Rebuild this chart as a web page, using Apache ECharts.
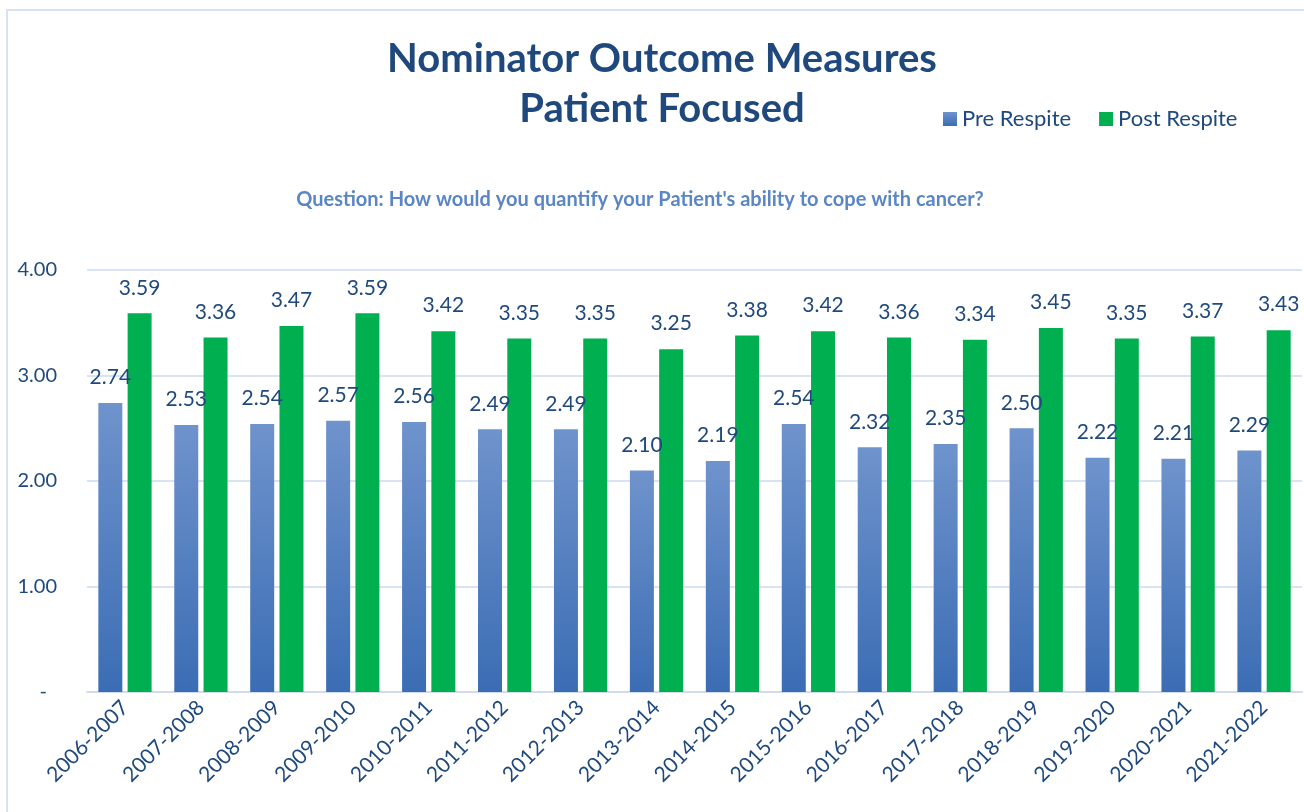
<!DOCTYPE html>
<html>
<head>
    <meta charset="UTF-8">
    <title>Nominator Outcome Measures</title>
    <script src="https://cdn.jsdelivr.net/npm/echarts@6/dist/echarts.min.js"></script>
    <style>
        html, body { margin: 0; padding: 0; background: #fff; }
        #main { width: 1304px; height: 812px; }
    </style>
</head>
<body>
    <div id="main"></div>
    <script type="text/javascript">
        // 数据
        var years = ['2006-2007', '2007-2008', '2008-2009', '2009-2010', '2010-2011', '2011-2012',
            '2012-2013', '2013-2014', '2014-2015', '2015-2016', '2016-2017', '2017-2018',
            '2018-2019', '2019-2020', '2020-2021', '2021-2022'];
        var preRespite = [2.74, 2.53, 2.54, 2.57, 2.56, 2.49, 2.49, 2.10, 2.19, 2.54, 2.32, 2.35, 2.50, 2.22, 2.21, 2.29];
        var postRespite = [3.59, 3.36, 3.47, 3.59, 3.42, 3.35, 3.35, 3.25, 3.38, 3.42, 3.36, 3.34, 3.45, 3.35, 3.37, 3.43];

        var font = 'Lato, "Open Sans", sans-serif';
        var dark = '#1f497d';

        var myChart = echarts.init(document.getElementById('main'));

        var preColor = new echarts.graphic.LinearGradient(0, 0, 0, 1, [
            { offset: 0, color: '#6f93cc' },
            { offset: 1, color: '#3b6db4' }
        ]);

        var option = {
            backgroundColor: '#fff',
            animation: false,
            textStyle: { fontFamily: font },
            title: [{
                text: 'Nominator Outcome Measures',
                left: 657, top: 34, textAlign: 'center',
                textStyle: { fontSize: 40, fontWeight: 'bold', color: dark, fontFamily: font }
            }, {
                text: 'Patient Focused',
                left: 657, top: 84, textAlign: 'center',
                textStyle: { fontSize: 40, fontWeight: 'bold', color: dark, fontFamily: font }
            }, {
                text: "Question: How would you quantify your Patient's ability to cope with cancer?",
                left: 635, top: 185, textAlign: 'center',
                textStyle: { fontSize: 20, fontWeight: 'bold', color: '#5a86c4', fontFamily: font }
            }],
            legend: {
                left: 938, top: 103,
                itemWidth: 14, itemHeight: 14, itemGap: 28,
                icon: 'rect',
                textStyle: { fontSize: 22, color: dark, fontFamily: font },
                data: ['Pre Respite', 'Post Respite']
            },
            graphic: [{
                type: 'rect',
                shape: { x: 7, y: 10, width: 1320, height: 830 },
                style: { fill: 'none', stroke: '#d6e3f3', lineWidth: 2 },
                silent: true
            }],
            grid: { left: 87, right: 2, top: 270, bottom: 120 },
            xAxis: {
                type: 'category',
                data: years,
                axisLine: { lineStyle: { color: '#d0dcee', width: 2 } },
                axisTick: { show: false },
                axisLabel: {
                    rotate: 45, interval: 0, margin: 12,
                    fontSize: 21, color: dark, fontFamily: font
                }
            },
            yAxis: {
                type: 'value',
                min: 0, max: 4, interval: 1,
                axisLine: { show: false },
                axisTick: { show: false },
                splitLine: { lineStyle: { color: '#d9e4f3', width: 2 } },
                axisLabel: {
                    margin: 30, fontSize: 20, color: dark, fontFamily: font,
                    formatter: function (v) {
                        return v === 0 ? '{d|-}' : v.toFixed(2);
                    },
                    rich: { d: { fontSize: 20, color: dark, padding: [0, 10, 0, 0] } }
                }
            },
            series: [{
                name: 'Pre Respite',
                type: 'bar',
                data: preRespite,
                barWidth: 24,
                barGap: '22%',
                itemStyle: { color: preColor },
                label: {
                    show: true, position: 'top', distance: 15,
                    fontSize: 21, color: dark, fontFamily: font,
                    formatter: function (p) { return p.value.toFixed(2); }
                }
            }, {
                name: 'Post Respite',
                type: 'bar',
                data: postRespite,
                barWidth: 24,
                itemStyle: { color: '#00b050' },
                label: {
                    show: true, position: 'top', distance: 15,
                    fontSize: 21, color: dark, fontFamily: font,
                    formatter: function (p) { return p.value.toFixed(2); }
                }
            }]
        };

        myChart.setOption(option);
    </script>
</body>
</html>
